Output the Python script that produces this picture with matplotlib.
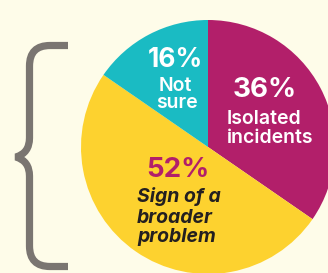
import matplotlib
matplotlib.use("Agg")
import matplotlib.pyplot as plt
from matplotlib.path import Path
from matplotlib.patches import PathPatch

# Survey answers, clockwise from the top
labels = ["Isolated\nincidents", "Sign of a\nbroader\nproblem", "Not\nsure"]
shares = [36, 52, 16]
colors = ["#B21F6A", "#FDD22F", "#1ABBC3"]

W, H = 328, 273
bg = "#FEFCE9"

fig = plt.figure(figsize=(W / 100, H / 100), dpi=100, facecolor=bg)
ax = fig.add_axes([0, 0, 1, 1])

# y is flipped below, so counterclock=True shows clockwise on screen
ax.pie(shares, colors=colors, startangle=-90, counterclock=True,
       center=(208, 147), radius=127, frame=True,
       wedgeprops=dict(linewidth=0))
ax.set_xlim(0, W)
ax.set_ylim(H, 0)  # image-style coordinates, y grows downward
ax.set_aspect("equal")
ax.axis("off")

# curly brace on the left
verts = [(68, 45.5), (50, 45.5), (29.5, 45.5), (29.5, 66), (29.5, 138),
         (29.5, 153), (16, 157), (29.5, 161), (29.5, 176), (29.5, 246),
         (29.5, 266.5), (50, 266.5), (68, 266.5)]
codes = [Path.MOVETO, Path.LINETO, Path.CURVE3, Path.CURVE3, Path.LINETO,
         Path.CURVE3, Path.CURVE3, Path.CURVE3, Path.CURVE3, Path.LINETO,
         Path.CURVE3, Path.CURVE3, Path.LINETO]
ax.add_patch(PathPatch(Path(verts, codes), fill=False, edgecolor="#7A7571",
                       linewidth=5.2, capstyle="butt", joinstyle="bevel"))

fam = ["Inter", "DejaVu Sans"]
# percentages
ax.text(175, 66.7, f"{shares[2]}%", color="white", fontsize=19, weight="bold",
        ha="center", va="baseline", family=fam)
ax.text(265, 96.7, f"{shares[0]}%", color="white", fontsize=20, weight="bold",
        ha="center", va="baseline", family=fam)
ax.text(178, 176.7, f"{shares[1]}%", color="#B21F6A", fontsize=20, weight="bold",
        ha="center", va="baseline", family=fam)

# category labels
for line, x, y in zip(labels[2].split("\n"), [175, 177], [90.7, 108.3]):
    ax.text(x, y, line, color="white", fontsize=14, weight="semibold",
            ha="center", va="baseline", family=fam)
for line, y in zip(labels[0].split("\n"), [124, 143.3]):
    ax.text(227, y, line, color="white", fontsize=14, weight="semibold",
            ha="left", va="baseline", family=fam)
for line, y in zip(labels[1].split("\n"), [201.7, 222.7, 241.7]):
    ax.text(137, y, line, color="#231F20", fontsize=14, weight="bold",
            style="italic", ha="left", va="baseline", family=fam)

fig.savefig("out.png", dpi=100, facecolor=bg)
